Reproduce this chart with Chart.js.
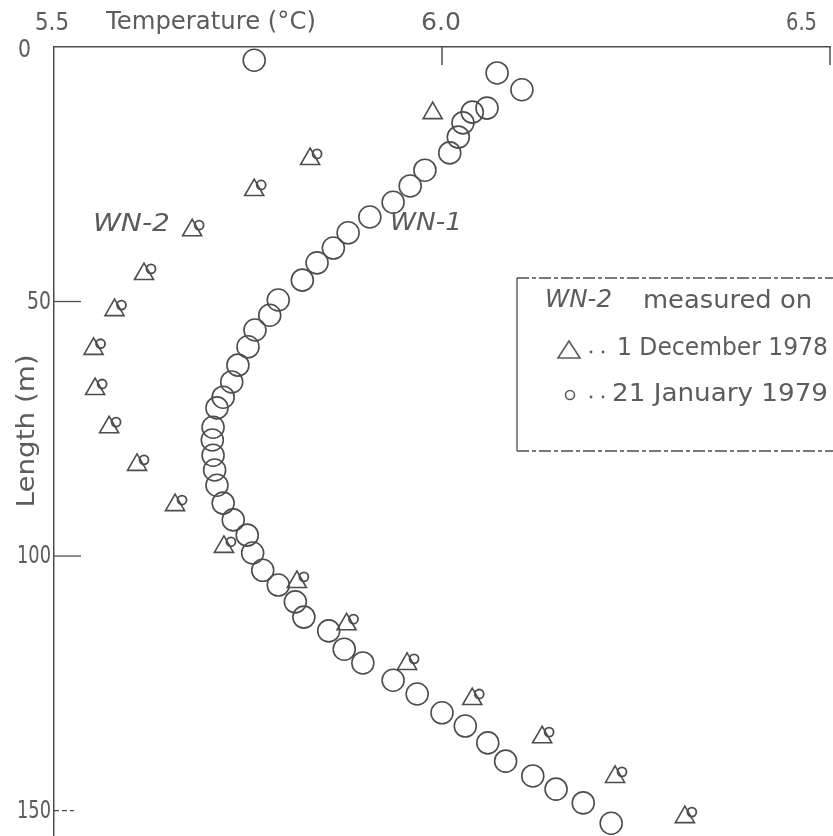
<!DOCTYPE html>
<html>
<head>
<meta charset="utf-8">
<script src="https://cdn.jsdelivr.net/npm/chart.js@4"></script>
<style>
  body { margin: 0; background: #fff; }
  #tempChart { display: block; }
</style>
</head>
<body>
<canvas id="tempChart" width="833" height="836"></canvas>
<script>
// WN-1 profile (large open circles)
const wn1Temp = [5.758, 6.071, 6.103, 6.058, 6.039, 6.027, 6.021, 6.010, 5.978, 5.959,
  5.937, 5.907, 5.879, 5.860, 5.839, 5.820, 5.789, 5.778, 5.759, 5.750,
  5.737, 5.729, 5.718, 5.710, 5.705, 5.704, 5.705, 5.707, 5.710, 5.718,
  5.731, 5.749, 5.756, 5.769, 5.789, 5.811, 5.822, 5.854, 5.874, 5.898,
  5.937, 5.968, 6.000, 6.030, 6.059, 6.082, 6.117, 6.147, 6.182, 6.218];
const wn1Len = [2.6, 5.1, 8.4, 12.0, 12.8, 14.9, 17.7, 20.8, 24.2, 27.3,
  30.5, 33.4, 36.5, 39.5, 42.4, 45.8, 49.7, 52.7, 55.6, 58.9,
  62.5, 65.8, 68.8, 70.9, 74.7, 77.2, 80.2, 83.1, 86.1, 89.6,
  92.9, 95.9, 99.4, 102.8, 105.7, 109.0, 112.0, 114.7, 118.3, 121.0,
  124.4, 127.1, 130.8, 133.4, 136.7, 140.3, 143.2, 145.8, 148.5, 152.5];

// WN-2, 1 December 1978 (triangles)
const decTemp = [5.988, 5.830, 5.758, 5.678, 5.616, 5.578, 5.551, 5.553, 5.571, 5.607,
  5.656, 5.719, 5.813, 5.877, 5.955, 6.039, 6.129, 6.223, 6.313];
const decLen = [13.0, 22.0, 28.1, 36.0, 44.6, 51.7, 59.3, 67.2, 74.7, 82.1,
  90.0, 98.2, 105.1, 113.4, 121.2, 128.1, 135.6, 143.4, 151.3];

// WN-2, 21 January 1979 (small circles)
const janTemp = [5.839, 5.767, 5.687, 5.625, 5.587, 5.560, 5.562, 5.580, 5.616,
  5.665, 5.728, 5.822, 5.886, 5.964, 6.048, 6.138, 6.232, 6.322];
const janLen = [21.0, 27.1, 35.0, 43.6, 50.7, 58.3, 66.2, 73.7, 81.1,
  89.0, 97.2, 104.1, 112.4, 120.2, 127.1, 134.6, 142.4, 150.3];

const xTicks = [5.5, 6.0, 6.5];
const yTicks = [0, 50, 100, 150];

const ink = "#4d4d4d";
const textInk = "#5c5c5c";
const font = "\"DejaVu Sans\", sans-serif";

function pts(xs, ys) {
  return xs.map((x, i) => ({ x: x, y: ys[i] }));
}

// text squeezed/stretched horizontally to the width it has on the scan
function txt(ctx, s, x, y, size, width, opts) {
  opts = opts || {};
  ctx.save();
  ctx.font = (opts.italic ? "italic " : "") + size + "px " + font;
  ctx.fillStyle = textInk;
  ctx.textBaseline = "middle";
  ctx.textAlign = "left";
  const w0 = ctx.measureText(s).width;
  const sx = width ? width / w0 : 1;
  const w = w0 * sx;
  if (opts.align === "right") x -= w;
  if (opts.align === "center") x -= w / 2;
  ctx.translate(x, y);
  ctx.scale(sx, 1);
  ctx.fillText(s, 0, 0);
  ctx.restore();
}

const decorations = {
  id: "decorations",
  beforeDraw(c) {
    const ctx = c.ctx;
    ctx.save();
    ctx.fillStyle = "#fff";
    ctx.fillRect(0, 0, c.width, c.height);
    ctx.restore();
  },
  afterDraw(c) {
    const ctx = c.ctx;
    const xs = c.scales.x;
    const ys = c.scales.y;
    const top = c.chartArea.top;
    const left = c.chartArea.left;

    // top tick labels + axis title
    txt(ctx, "5.5", xs.getPixelForValue(xTicks[0]) - 19, top - 24, 25, 34);
    txt(ctx, "Temperature (°C)", 106, top - 24, 24, 210);
    txt(ctx, "6.0", xs.getPixelForValue(xTicks[1]) - 21, top - 24, 25, 40);
    txt(ctx, "6.5", xs.getPixelForValue(xTicks[2]) - 44, top - 24, 25, 31);

    // top ticks pointing down into the plot
    ctx.save();
    ctx.strokeStyle = ink;
    ctx.lineWidth = 1.5;
    [xTicks[1], xTicks[2]].forEach(v => {
      const px = Math.min(xs.getPixelForValue(v), c.width - 2);
      ctx.beginPath();
      ctx.moveTo(px, top);
      ctx.lineTo(px, top + 18);
      ctx.stroke();
    });
    ctx.restore();

    // left tick labels and inward ticks
    yTicks.forEach(v => {
      const py = ys.getPixelForValue(v);
      const s = String(v);
      const w = s.length === 1 ? 13 : (s.length === 2 ? 24 : 34);
      txt(ctx, s, v === 0 ? 31 : 51, py + (v === 0 ? 4 : 1), 24, w, { align: "right" });
      if (v === 0) return;
      ctx.save();
      ctx.strokeStyle = ink;
      ctx.lineWidth = 1.3;
      if (v === 150) ctx.setLineDash([5, 3]);
      ctx.beginPath();
      ctx.moveTo(left, py);
      ctx.lineTo(left + (v === 150 ? 20 : 27), py);
      ctx.stroke();
      ctx.restore();
    });

    // y axis title, rotated
    ctx.save();
    ctx.translate(28, 431);
    ctx.rotate(-Math.PI / 2);
    txt(ctx, "Length (m)", 0, 0, 24, 153, { align: "center" });
    ctx.restore();

    // curve labels
    txt(ctx, "WN-2", 93, 225, 24, 77, { italic: true });
    txt(ctx, "WN-1", 390, 224, 24, 72, { italic: true });

    // legend box
    ctx.save();
    ctx.strokeStyle = ink;
    ctx.lineWidth = 1.3;
    ctx.beginPath();
    ctx.moveTo(517, 278);
    ctx.lineTo(517, 451);
    ctx.stroke();
    ctx.setLineDash([12, 3, 4, 3]);
    ctx.beginPath();
    ctx.moveTo(517, 278);
    ctx.lineTo(840, 278);
    ctx.moveTo(517, 451);
    ctx.lineTo(840, 451);
    ctx.stroke();
    ctx.restore();

    txt(ctx, "WN-2", 545, 301, 24, 67, { italic: true });
    txt(ctx, "measured on", 643, 302, 24, 169);

    ctx.save();
    ctx.strokeStyle = textInk;
    ctx.fillStyle = textInk;
    ctx.lineWidth = 1.6;
    ctx.beginPath();
    ctx.moveTo(558, 358);
    ctx.lineTo(580, 358);
    ctx.lineTo(569, 341);
    ctx.closePath();
    ctx.stroke();
    ctx.beginPath();
    ctx.arc(570, 395, 4.5, 0, Math.PI * 2);
    ctx.stroke();
    [[591, 352], [603, 352], [591, 397], [603, 397]].forEach(d => {
      ctx.beginPath();
      ctx.arc(d[0], d[1], 1.4, 0, Math.PI * 2);
      ctx.fill();
    });
    ctx.restore();

    txt(ctx, "1 December 1978", 617, 349, 24, 211);
    txt(ctx, "21 January 1979", 612, 395, 24, 216);
  }
};

const chart = new Chart(document.getElementById("tempChart"), {
  type: "scatter",
  data: {
    datasets: [
      {
        label: "WN-1",
        data: pts(wn1Temp, wn1Len),
        pointStyle: "circle",
        pointRadius: 11,
        pointBorderWidth: 1.6,
        borderColor: ink,
        backgroundColor: "rgba(0,0,0,0)",
        clip: false
      },
      {
        label: "WN-2 1 December 1978",
        data: pts(decTemp, decLen),
        pointStyle: "triangle",
        pointRadius: 11,
        pointBorderWidth: 1.6,
        borderColor: ink,
        backgroundColor: "rgba(0,0,0,0)",
        clip: false
      },
      {
        label: "WN-2 21 January 1979",
        data: pts(janTemp, janLen),
        pointStyle: "circle",
        pointRadius: 4.5,
        pointBorderWidth: 1.8,
        borderColor: ink,
        backgroundColor: "rgba(0,0,0,0)",
        clip: false
      }
    ]
  },
  options: {
    responsive: false,
    animation: false,
    events: [],
    layout: {
      autoPadding: false,
      padding: { left: 54, top: 47, right: 3, bottom: 0 }
    },
    plugins: {
      legend: { display: false },
      tooltip: { enabled: false }
    },
    scales: {
      x: {
        type: "linear",
        position: "top",
        min: 5.5,
        max: 6.5,
        grid: { display: false, drawTicks: false },
        ticks: { display: false },
        border: { display: true, color: ink, width: 1.5 }
      },
      y: {
        type: "linear",
        reverse: true,
        min: 0,
        max: 155,
        grid: { display: false, drawTicks: false },
        ticks: { display: false },
        border: { display: true, color: ink, width: 1.5 }
      }
    }
  },
  plugins: [decorations]
});
</script>
</body>
</html>
